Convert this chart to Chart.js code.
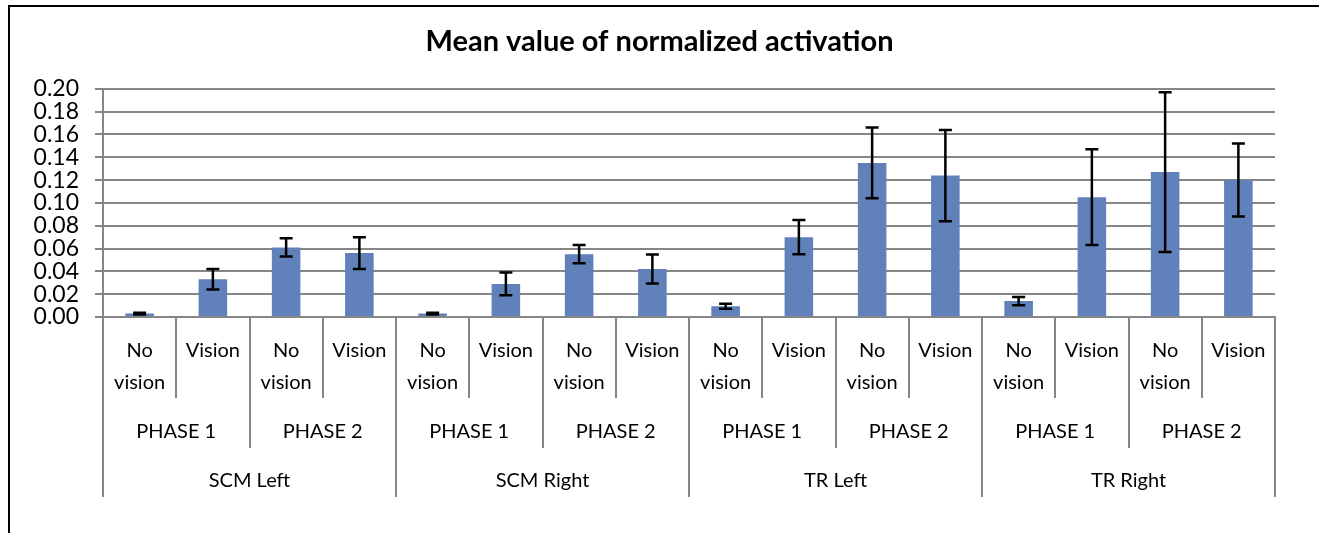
<!DOCTYPE html>
<html>
<head>
<meta charset="utf-8">
<script src="https://cdn.jsdelivr.net/npm/chart.js@4"></script>
<style>
    html, body { margin: 0; padding: 0; background: #fff; }
    #wrap { position: relative; width: 1319px; height: 533px; overflow: hidden; }
    #frame { position: absolute; left: 8px; top: 5px; width: 2000px; height: 1000px;
             border-top: 2px solid #000; border-left: 2px solid #000; }
    canvas { position: absolute; left: 0; top: 0; }
</style>
</head>
<body>
<div id="wrap">
    <div id="frame"></div>
    <canvas id="activationChart" width="1319" height="533"></canvas>
</div>
<script>
const muscles = ['SCM Left', 'SCM Right', 'TR Left', 'TR Right'];
const phases = ['PHASE 1', 'PHASE 2'];
const conditions = [['No', 'vision'], ['Vision']];

// mean values, in category order (muscle > phase > condition)
const meanValues = [
    0.003, 0.033, 0.061, 0.056,
    0.003, 0.029, 0.055, 0.042,
    0.0095, 0.070, 0.135, 0.124,
    0.014, 0.105, 0.127, 0.120
];
// +/- error bar half lengths
const errorValues = [
    0.0008, 0.009, 0.008, 0.014,
    0.0008, 0.010, 0.008, 0.0127,
    0.0022, 0.015, 0.031, 0.040,
    0.0036, 0.042, 0.070, 0.032
];

const gridColor = '#868686';
const labelFont = 'Lato';

// one entry per bar
const categories = [];
muscles.forEach(muscle => {
    phases.forEach(phase => {
        conditions.forEach(cond => {
            categories.push({ muscle: muscle, phase: phase, cond: cond });
        });
    });
});

const errorBarPlugin = {
    id: 'errorBars',
    afterDatasetsDraw(chart) {
        const ctx = chart.ctx;
        const yScale = chart.scales.y;
        const meta = chart.getDatasetMeta(0);
        ctx.save();
        ctx.strokeStyle = '#000';
        ctx.lineWidth = 2.5;
        meta.data.forEach((bar, i) => {
            const top = yScale.getPixelForValue(meanValues[i] + errorValues[i]);
            const bottom = yScale.getPixelForValue(meanValues[i] - errorValues[i]);
            ctx.beginPath();
            ctx.moveTo(bar.x, top);
            ctx.lineTo(bar.x, bottom);
            ctx.moveTo(bar.x - 6.5, top);
            ctx.lineTo(bar.x + 6.5, top);
            ctx.moveTo(bar.x - 6.5, bottom);
            ctx.lineTo(bar.x + 6.5, bottom);
            ctx.stroke();
        });
        ctx.restore();
    }
};

// Excel style multi-level category axis
const groupAxisPlugin = {
    id: 'groupAxis',
    afterDraw(chart) {
        const ctx = chart.ctx;
        const xScale = chart.scales.x;
        const area = chart.chartArea;
        const n = categories.length;
        const center = i => xScale.getPixelForValue(i);
        const boundary = k => {
            if (k === 0) return area.left;
            if (k === n) return area.right;
            return (center(k - 1) + center(k)) / 2;
        };
        const base = area.bottom;

        ctx.save();
        ctx.strokeStyle = gridColor;
        ctx.lineWidth = 2;
        for (let k = 0; k <= n; k++) {
            let len = 81;
            if (k % 4 === 0) len = 180;
            else if (k % 2 === 0) len = 131;
            const x = Math.round(boundary(k));
            ctx.beginPath();
            ctx.moveTo(x, base);
            ctx.lineTo(x, base + len);
            ctx.stroke();
        }

        ctx.fillStyle = '#000';
        ctx.textAlign = 'center';
        ctx.textBaseline = 'middle';
        ctx.font = '20px ' + labelFont;
        categories.forEach((c, i) => {
            c.cond.forEach((line, j) => {
                ctx.fillText(line, center(i), base + 34 + j * 32);
            });
        });
        for (let p = 0; p < n / 2; p++) {
            const mid = (boundary(p * 2) + boundary(p * 2 + 2)) / 2;
            ctx.fillText(categories[p * 2].phase, mid, base + 115);
        }
        for (let m = 0; m < n / 4; m++) {
            const mid = (boundary(m * 4) + boundary(m * 4 + 4)) / 2;
            ctx.fillText(categories[m * 4].muscle, mid, base + 164);
        }
        ctx.restore();
    }
};

const ctx = document.getElementById('activationChart').getContext('2d');
new Chart(ctx, {
    type: 'bar',
    data: {
        labels: categories.map(c => c.cond.join(' ')),
        datasets: [{
            data: meanValues,
            backgroundColor: '#6181BB',
            borderWidth: 0,
            barPercentage: 0.39,
            categoryPercentage: 1
        }]
    },
    options: {
        responsive: false,
        animation: false,
        devicePixelRatio: 1,
        layout: {
            padding: 0
        },
        plugins: {
            legend: { display: false },
            tooltip: { enabled: false },
            title: {
                display: true,
                text: 'Mean value of normalized activation',
                color: '#000',
                font: { family: labelFont, size: 29, weight: 'bold' },
                padding: { top: 24, bottom: 30 }
            }
        },
        scales: {
            x: {
                ticks: { display: false },
                grid: { display: false },
                border: { display: true, color: gridColor, width: 2 },
                afterFit: scale => { scale.height = 216; }
            },
            y: {
                min: 0,
                max: 0.2,
                ticks: {
                    stepSize: 0.02,
                    autoSkip: false,
                    color: '#000',
                    padding: 16,
                    font: { family: labelFont, size: 23 },
                    callback: v => v.toFixed(2)
                },
                grid: { color: gridColor, lineWidth: 2, tickLength: 8 },
                border: { display: true, color: gridColor, width: 2 },
                afterFit: scale => { scale.width = 103; }
            },
            // empty right margin so the title stays centred on the whole canvas
            spacer: {
                position: 'right',
                ticks: { display: false },
                grid: { display: false },
                border: { display: false },
                afterFit: scale => { scale.width = 44; }
            }
        }
    },
    plugins: [errorBarPlugin, groupAxisPlugin]
});
</script>
</body>
</html>
